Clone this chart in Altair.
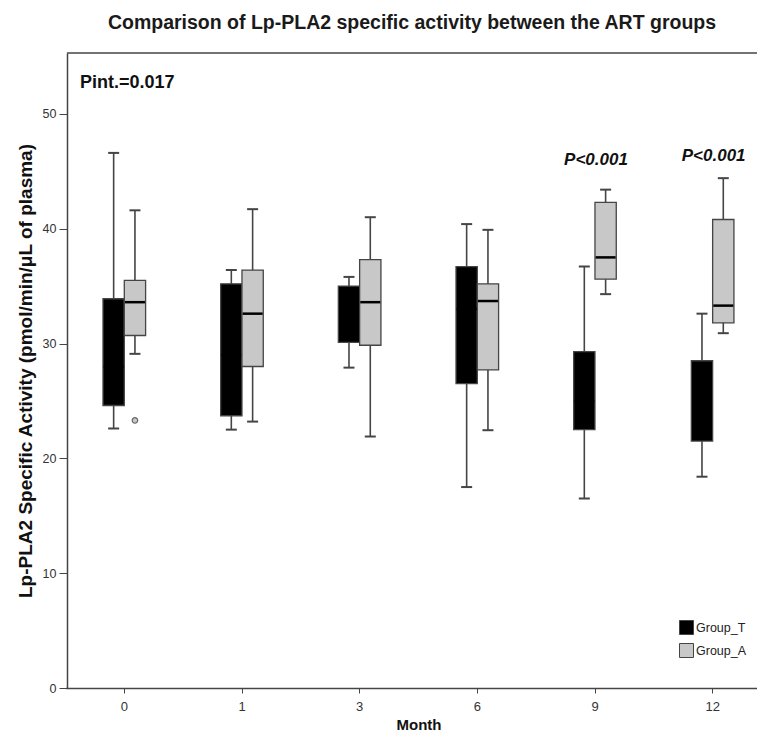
import altair as alt
import pandas as pd

months = ["0", "1", "3", "6", "9", "12"]
groups = ["Group_T", "Group_A"]

# Box-plot statistics
t_low = [22.6, 22.5, 27.9, 17.5, 16.5, 18.4]
t_q1 = [24.6, 23.7, 30.1, 26.5, 22.5, 21.5]
t_med = [28.0, 29.0, 33.0, 33.0, 25.0, 24.5]
t_q3 = [33.9, 35.2, 35.0, 36.7, 29.3, 28.5]
t_high = [46.6, 36.4, 35.8, 40.4, 36.7, 32.6]

a_low = [29.1, 23.2, 21.9, 22.45, 34.3, 30.9]
a_q1 = [30.7, 28.0, 29.85, 27.7, 35.6, 31.8]
a_med = [33.6, 32.6, 33.6, 33.7, 37.5, 33.3]
a_q3 = [35.5, 36.4, 37.3, 35.2, 42.3, 40.8]
a_high = [41.6, 41.7, 41.0, 39.9, 43.4, 44.4]

outlier_month = ["0"]
outlier_group = ["Group_A"]
outlier_value = [23.3]

sig_months = ["9", "12"]
sig_text = ["P<0.001", "P<0.001"]
sig_y = [46.0, 46.3]

pint_text = ["Pint.=0.017"]
pint_y = [52.65]

rows = []
for i, m in enumerate(months):
    rows.append(dict(Month=m, Group="Group_T", low=t_low[i], q1=t_q1[i], med=t_med[i], q3=t_q3[i], high=t_high[i]))
    rows.append(dict(Month=m, Group="Group_A", low=a_low[i], q1=a_q1[i], med=a_med[i], q3=a_q3[i], high=a_high[i]))
df = pd.DataFrame(rows)
out_df = pd.DataFrame(dict(Month=outlier_month, Group=outlier_group, v=outlier_value))
sig_df = pd.DataFrame(dict(Month=sig_months, t=sig_text, v=sig_y))
pint_df = pd.DataFrame(dict(t=pint_text, v=pint_y))

FONT = "Liberation Sans"
LINE = "#454545"

xenc = alt.X("Month:N", sort=months, scale=alt.Scale(range=[-1.5, 704.5], paddingInner=0, paddingOuter=0),
             axis=alt.Axis(title="Month", labelAngle=0))
xoff = alt.XOffset("Group:N", sort=groups,
                   scale=alt.Scale(domain=groups, range=[37.5, 80.1], paddingOuter=0, paddingInner=0))
yscale = alt.Scale(domain=[0, 55.3], nice=False, zero=True)
yenc_axis = alt.Axis(title="Lp-PLA2 Specific Activity (pmol/min/μL of plasma)", values=[0, 10, 20, 30, 40, 50])

base = alt.Chart(df)

whisk = base.mark_rule(color=LINE, strokeWidth=1.6, opacity=1).encode(
    x=xenc, xOffset=xoff,
    y=alt.Y("low:Q", scale=yscale, axis=yenc_axis), y2="high:Q")

cap_lo = base.mark_tick(color=LINE, thickness=2, size=11, opacity=1).encode(
    x=xenc, xOffset=xoff, y=alt.Y("low:Q", scale=yscale))
cap_hi = base.mark_tick(color=LINE, thickness=2, size=11, opacity=1).encode(
    x=xenc, xOffset=xoff, y=alt.Y("high:Q", scale=yscale))

box = base.mark_bar(stroke=LINE, strokeWidth=1.3, opacity=1, fillOpacity=1).encode(
    x=xenc, xOffset=xoff,
    y=alt.Y("q1:Q", scale=yscale), y2="q3:Q",
    color=alt.Color("Group:N", sort=groups,
                    scale=alt.Scale(domain=groups, range=["#000000", "#c8c8c8"]),
                    legend=alt.Legend(title=None, orient="none", legendX=612, legendY=567,
                                      symbolType="square", symbolSize=196, symbolStrokeColor=LINE,
                                      symbolStrokeWidth=1, symbolOpacity=1, labelFontSize=12.5, labelFont=FONT,
                                      labelColor="#222", rowPadding=4, labelOffset=2)))

med = base.mark_tick(color="#000000", thickness=2.5, size=20, opacity=1).encode(
    x=xenc, xOffset=xoff, y=alt.Y("med:Q", scale=yscale))

outl = alt.Chart(out_df).mark_point(shape="circle", size=30, filled=True, fill="#c8c8c8",
                                    stroke="#666", strokeWidth=1.2, opacity=1).encode(
    x=xenc, xOffset=xoff, y=alt.Y("v:Q", scale=yscale))

sig = alt.Chart(sig_df).mark_text(font=FONT, fontSize=17, fontWeight="bold", fontStyle="italic",
                                  color="#111", baseline="middle", dx=1).encode(
    x=xenc, y=alt.Y("v:Q", scale=yscale), text="t:N")

pint = alt.Chart(pint_df).mark_text(font=FONT, fontSize=18, fontWeight="bold", color="#111",
                                    align="left", baseline="middle").encode(
    x=alt.value(13), y=alt.Y("v:Q", scale=yscale), text="t:N")

topline = alt.Chart(pint_df).mark_rule(color=LINE, strokeWidth=1.5).encode(
    x=alt.value(0), x2=alt.value(720), y=alt.value(0))

chart = alt.layer(whisk, cap_lo, cap_hi, box, med, outl, sig, pint, topline).properties(
    width=690, height=635,
    autosize=alt.AutoSizeParams(type="none"),
    padding={"left": 59, "top": 45, "right": 0, "bottom": 46},
    title=alt.Title("Comparison of Lp-PLA2 specific activity between the ART groups",
                    font=FONT, fontSize=19.5, fontWeight="bold", color="#1a1a1a", offset=19),
).configure_view(stroke=None).configure_axis(
    labelFont=FONT, titleFont=FONT, domainColor=LINE, tickColor=LINE, domainWidth=1.5,
    labelColor="#333", titleColor="#111", grid=False,
).configure_axisX(
    tickSize=5, labelFontSize=13, labelPadding=7, titleFontSize=15, titleFontWeight="bold", titlePadding=4,
).configure_axisY(
    tickSize=8, labelFontSize=12.5, labelPadding=3, titleFontSize=19, titleFontWeight="bold", titlePadding=7,
)

chart.save("out.html", embed_options={"renderer": "svg", "actions": False})
